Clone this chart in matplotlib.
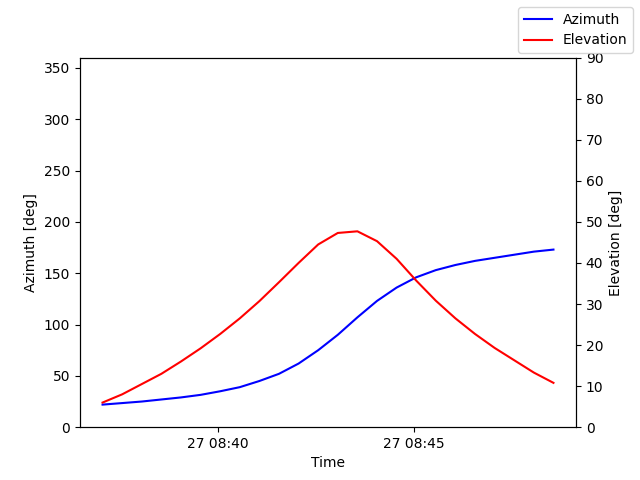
import matplotlib
matplotlib.use("Agg")
import matplotlib.pyplot as plt
import matplotlib.dates as mdates
import numpy as np
import datetime as dt

start = dt.datetime(2024, 1, 27, 8, 37, 4)
times = [start + dt.timedelta(seconds=30 * i) for i in range(24)]
azimuth = [22, 23.5, 25, 27, 29, 31.5, 35, 39, 45, 52, 62, 75, 90, 107, 123, 136,
           146, 153, 158, 162, 165, 168, 171, 173]
elevation = [6, 8, 10.5, 13, 16, 19.2, 22.7, 26.5, 30.7, 35.3, 40, 44.5, 47.3, 47.7,
             45.3, 41, 35.7, 30.8, 26.5, 22.7, 19.3, 16.3, 13.3, 10.8]

fig, ax = plt.subplots(figsize=(6.4, 4.8), dpi=100)
l1, = ax.plot(times, azimuth, color="blue", label="Azimuth")
ax.set_ylim(0, 360)
ax.set_ylabel("Azimuth [deg]")
ax.set_xlabel("Time")
ax2 = ax.twinx()
l2, = ax2.plot(times, elevation, color="red", label="Elevation")
ax2.set_ylim(0, 90)
ax2.set_yticks(range(0, 91, 10))
ax2.set_ylabel("Elevation [deg]")
ax.xaxis.set_major_locator(mdates.MinuteLocator(byminute=[40, 45]))
ax.xaxis.set_major_formatter(mdates.DateFormatter("%d %H:%M"))
fig.legend(handles=[l1, l2], loc="upper right")
fig.savefig("out.png")
